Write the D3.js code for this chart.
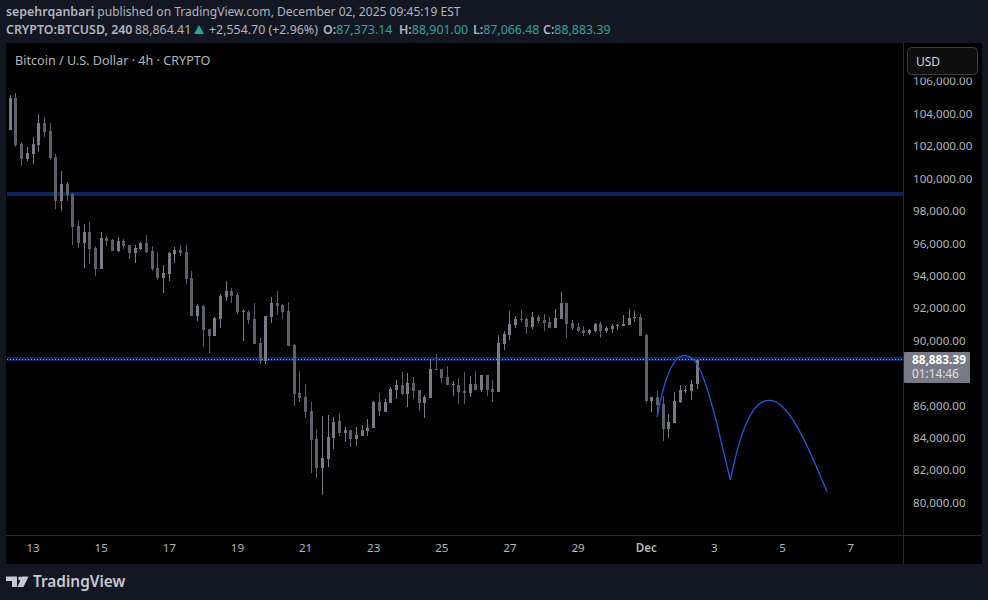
<!DOCTYPE html>
<html>
<head>
<meta charset="utf-8">
<style>
  html, body { margin: 0; padding: 0; background: #131722; }
  svg { display: block; font-family: "Noto Sans", sans-serif; }
  .axis text { fill: #b2b5be; font-size: 11.6px; font-family: "Noto Sans", sans-serif; }
</style>
<script src="https://cdn.jsdelivr.net/npm/d3@7"></script>
</head>
<body>
<svg id="chart" width="988" height="600"></svg>
<script>
// values, one entry per 4h bar
const opens = [103065,105019,102181,101255,101564,102119,103476,102983,101379,98664,99713,99096,97121,96072,96751,95764,94468,96381,96257,95579,96196,95949,95455,95702,96072,95579,94530,93913,94160,95394,95641,95518,93913,91569,92186,90767,90335,91384,92741,93111,92865,91816,91816,91384,89903,88792,91507,92371,92247,91877,89779,86818,86571,85707,83979,82190,82745,84041,85090,84350,84535,83980,84165,84473,84658,86263,85646,86201,87003,87311,86756,87435,87003,86201,86509,88299,88299,87805,87311,87311,86941,86818,87373,87003,87928,87065,86880,89841,90397,91013,91384,91384,90890,91507,91322,91199,90828,91384,92371,91137,90890,90705,90520,90643,91075,90643,90767,90952,90952,91013,91445,91507,90397,86324,86571,86139,84597,84967,86263,86941,86941,87373.14];
const highs = [105204,105327,102304,101996,102613,104032,103847,103476,101564,100515,99836,99157,97491,97245,97368,95887,96751,96504,96319,96442,96319,95949,95949,96134,96566,95887,95517,94715,95518,95826,95950,95950,94345,92309,92247,90767,91507,92926,93728,93296,92988,92001,91939,92371,90211,91569,92741,93111,92309,92433,89841,88175,87373,86262,84596,85398,85460,85337,85584,84720,84535,84720,84843,85213,86324,86818,86448,87188,87620,88114,88052,87805,87003,86694,88854,89224,88299,88484,87558,87743,88114,87867,88175,87928,87928,87620,90397,90643,91877,91569,91939,91445,91816,91630,91692,91507,92001,93050,92371,91322,91137,90952,90767,91137,91199,90952,91075,91075,91630,92001,91877,91692,90458,86571,86941,86633,85522,86879,87311,87250,87620,88901.00];
const lows = [103050,101996,100823,101132,100947,101687,102613,101194,98170,98047,98664,95949,95764,94530,94777,94036,94468,95887,95579,95517,95702,95085,94838,95641,95455,94345,93789,92987,93728,94839,95271,93543,91569,91260,89656,89286,90335,90828,92494,92371,91692,90026,91075,89841,88607,88607,91137,91631,91384,89718,86016,86262,85275,81881,81573,80524,82252,83362,84165,83794,83486,83548,84165,84165,84658,85399,85646,86201,86448,86694,85954,86448,85707,85275,86509,88237,87435,87311,86633,86139,86139,86571,87003,86880,86633,86263,86880,89471,90088,90828,91199,90458,90767,91137,90643,90828,90828,91384,90211,90705,90582,90335,90397,90582,90211,90520,90520,90705,90952,91013,91199,90335,86201,85646,85522,83856,84041,84967,86201,86818,86386,87066.48];
const closes = [105019,102119,101255,101625,102181,103476,102921,101317,98664,99713,99034,97059,96072,96751,95702,94468,96381,96196,95579,96196,95887,95455,95764,96072,95517,94468,93913,94221,95456,95641,95456,93852,91569,92186,90705,90335,91445,92803,93111,92803,91816,91877,91322,89841,88792,91569,92371,92186,91816,89718,86756,86509,85646,83918,82190,82807,84103,85028,84350,84535,83980,84226,84535,84658,86263,85707,86263,87065,87311,86756,87435,86941,86201,86571,88299,88237,87743,87311,87373,86880,86818,87373,87003,87928,87003,86880,89903,90458,91075,91384,91322,90890,91507,91260,91137,90828,91445,92371,91075,90828,90643,90520,90705,91075,90643,90828,90952,91013,91075,91445,91507,90335,86324,86571,86077,84597,85028,86324,87003,87003,87373,88883.39];

// 88,000 sits under the last price tag in the picture, so it is left out
const priceTicks = [80000,82000,84000,86000,90000,92000,94000,96000,98000,100000,102000,104000,106000];
const dateBars = [4,16,28,40,52,64,76,88,100,112,124,136,148];
const dateLabels = ["13","15","17","19","21","23","25","27","29","Dec","3","5","7"];

// drawings: two horizontal levels and two arcs, as [bar, price]
const resistanceLevel = 99096;
const supportLevel = 88915;
const lastPrice = 88883.39;
const arcOne = [[113.91,85317],[114.97,87003],[116.73,88607],[118.78,89121],[120.95,88607],[122.89,86900],[124.65,84638],[126.82,81450]];
const arcTwo = [[126.82,81450],[128.47,83815],[130.81,85707],[133.57,86365],[136.39,85831],[139.62,84062],[142.85,81553],[143.84,80730]];

const upColor = "#787b86";
const downColor = "#5d606b";
const levelColor = "#0c2461";
const drawColor = "#2158d9";

const panel = { left: 6, right: 982, top: 43, bottom: 564, axisX: 903, axisY: 535 };

const svg = d3.select("#chart");

const x = d3.scaleLinear().domain([0, 121]).range([10.3, 697.3]);
const y = d3.scaleLinear().domain([80000, 106000]).range([503.5, 82.04]);

svg.append("rect")
  .attr("x", panel.left)
  .attr("y", panel.top)
  .attr("width", panel.right - panel.left)
  .attr("height", panel.bottom - panel.top)
  .attr("fill", "#000");

// header
const header = svg.append("g").attr("font-size", 12.4).attr("fill", "#b2b5be");
const line1 = header.append("text").attr("x", 6).attr("y", 16);
line1.append("tspan").attr("font-weight", 600).text("sepehrqanbari");
line1.append("tspan").attr("font-size", 12.05).text(" published on TradingView.com, December 02, 2025 09:45:19 EST");

const line2 = header.append("text").attr("x", 6).attr("y", 34);
line2.append("tspan").attr("font-weight", 600).text("CRYPTO:BTCUSD, 240");
line2.append("tspan").attr("x", 135).text("88,864.41");
header.append("path").attr("d", "M194 34 L204 34 L199 25 Z").attr("fill", "#26a69a");
line2.append("tspan").attr("x", 209).text("+2,554.70 (+2.96%)");
[["O:", "87,373.14", 323], ["H:", "88,901.00", 399], ["L:", "87,066.48", 473], ["C:", "88,883.39", 543]].forEach(([k, v, px]) => {
  line2.append("tspan").attr("x", px).attr("font-weight", 600).text(k);
  line2.append("tspan").attr("fill", "#26a69a").text(v);
});

// levels sit behind the candles
const levels = svg.append("g");
levels.append("line")
  .attr("x1", 7).attr("x2", panel.axisX)
  .attr("y1", y(resistanceLevel)).attr("y2", y(resistanceLevel))
  .attr("stroke", levelColor).attr("stroke-width", 4);
levels.append("line")
  .attr("x1", 7).attr("x2", panel.axisX)
  .attr("y1", y(supportLevel)).attr("y2", y(supportLevel))
  .attr("stroke", levelColor).attr("stroke-width", 4);
levels.append("line")
  .attr("x1", 7).attr("x2", panel.axisX)
  .attr("y1", y(lastPrice)).attr("y2", y(lastPrice))
  .attr("stroke", "#8fa3d8").attr("stroke-width", 1)
  .attr("stroke-dasharray", "1 2");

// candles
const candles = svg.append("g").attr("shape-rendering", "crispEdges");
const bars = candles.selectAll("g")
  .data(opens.map((o, i) => ({ i, o, h: highs[i], l: lows[i], c: closes[i] })))
  .join("g")
  .attr("fill", (d) => (d.c >= d.o ? upColor : downColor));

bars.append("rect")
  .attr("x", (d) => Math.floor(x(d.i)))
  .attr("width", 1)
  .attr("y", (d) => y(d.h))
  .attr("height", (d) => Math.max(1, y(d.l) - y(d.h)));

bars.append("rect")
  .attr("x", (d) => Math.floor(x(d.i)) - 1)
  .attr("width", 3)
  .attr("y", (d) => y(Math.max(d.o, d.c)))
  .attr("height", (d) => Math.max(1, Math.abs(y(d.o) - y(d.c))));

// arcs drawn on top
const arcLine = d3.line()
  .x((d) => x(d[0]))
  .y((d) => y(d[1]))
  .curve(d3.curveNatural);

[arcOne, arcTwo].forEach((pts) => {
  svg.append("path")
    .attr("d", arcLine(pts))
    .attr("fill", "none")
    .attr("stroke", drawColor)
    .attr("stroke-width", 1.3);
});

svg.append("text")
  .attr("x", 15).attr("y", 65)
  .attr("font-size", 12.6)
  .attr("fill", "#b2b5be")
  .text("Bitcoin / U.S. Dollar · 4h · CRYPTO");

// axes
svg.append("rect")
  .attr("x", panel.axisX + 1).attr("y", panel.top)
  .attr("width", panel.right - panel.axisX - 1)
  .attr("height", panel.bottom - panel.top)
  .attr("fill", "#000");

const yAxis = svg.append("g")
  .attr("class", "axis")
  .attr("transform", `translate(${panel.axisX},0)`)
  .call(d3.axisRight(y).tickValues(priceTicks).tickSize(0).tickPadding(10).tickFormat((d) => d3.format(",.2f")(d)));
yAxis.select(".domain").remove();
yAxis.selectAll("text").attr("dy", "0.25em");

const xAxis = svg.append("g")
  .attr("class", "axis")
  .attr("transform", `translate(0,${panel.axisY})`)
  .call(d3.axisBottom(x).tickValues(dateBars).tickSize(0).tickPadding(9).tickFormat((d, i) => dateLabels[i]));
xAxis.select(".domain").remove();
xAxis.selectAll("text").attr("font-weight", (d, i) => (dateLabels[i] === "Dec" ? 600 : 400)).attr("dx", -0.5);

svg.append("rect")
  .attr("x", panel.axisX).attr("y", panel.top)
  .attr("width", 1).attr("height", panel.bottom - panel.top)
  .attr("fill", "#2a2a2a");
svg.append("rect")
  .attr("x", panel.left).attr("y", panel.axisY)
  .attr("width", panel.right - panel.left).attr("height", 1)
  .attr("fill", "#2a2a2a");

// currency button, with a black band that clips the top of the 106,000 label
svg.append("rect")
  .attr("x", 905).attr("y", 44)
  .attr("width", 76).attr("height", 33.5)
  .attr("fill", "#000");
svg.append("rect")
  .attr("x", 907.5).attr("y", 47.5)
  .attr("width", 70).attr("height", 27).attr("rx", 4)
  .attr("fill", "#0f0f0f").attr("stroke", "#3a3a3a");
svg.append("text")
  .attr("x", 916).attr("y", 66)
  .attr("font-size", 12).attr("fill", "#d1d4dc")
  .text("USD");

// last price tag
svg.append("rect")
  .attr("x", 904).attr("y", 352)
  .attr("width", 66).attr("height", 31).attr("rx", 1)
  .attr("fill", upColor);
svg.append("text")
  .attr("x", 912).attr("y", 363.5)
  .attr("font-size", 11.8).attr("font-weight", 700).attr("fill", "#fff")
  .text(d3.format(",.2f")(lastPrice));
svg.append("text")
  .attr("x", 912).attr("y", 377.5)
  .attr("font-size", 11.8).attr("fill", "#e0e0e0")
  .text("01:14:46");

// footer logo
svg.append("path")
  .attr("d", "M6 576.5H17V587H12V581H6Z M22 576.5H28.5L23.5 587H17.5Z")
  .attr("fill", "#c8cad0");
svg.append("circle").attr("cx", 20.2).attr("cy", 578.5).attr("r", 2).attr("fill", "#c8cad0");
svg.append("text")
  .attr("x", 33).attr("y", 587)
  .attr("font-size", 15.4).attr("font-weight", 600)
  .attr("fill", "#c8cad0")
  .text("TradingView");
</script>
</body>
</html>
